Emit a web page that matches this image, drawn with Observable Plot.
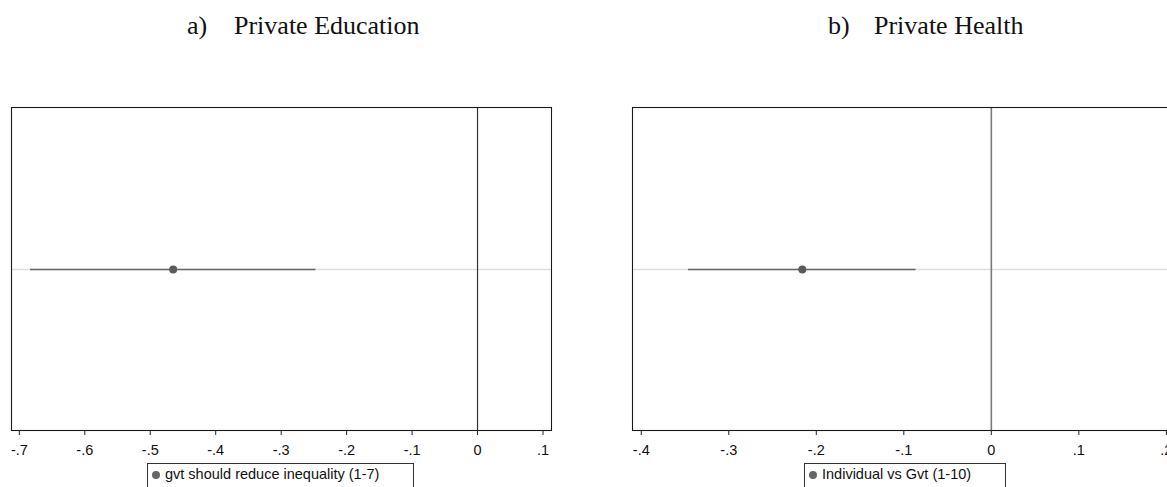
<!DOCTYPE html>
<html>
<head>
<meta charset="utf-8">
<script src="https://cdn.jsdelivr.net/npm/d3@7"></script>
<script src="https://cdn.jsdelivr.net/npm/@observablehq/plot@0.6"></script>
<style>
  html, body { margin: 0; padding: 0; background: #fff; }
  #wrap { position: relative; width: 1167px; height: 487px; overflow: hidden; background: #fff; }
  .ttl { position: absolute; font-family: "Liberation Serif", "Times New Roman", serif; font-size: 26px; line-height: 26px; color: #111; white-space: nowrap; }
  .plot { position: absolute; }
  .leg { position: absolute; border: 1px solid #333; height: 40px; box-sizing: border-box; background: #fff; }
  .leg .dot { position: absolute; width: 8px; height: 8px; border-radius: 50%; background: #666; }
  .leg .txt { position: absolute; font-family: "Liberation Sans", Arial, sans-serif; font-size: 14.5px; line-height: 15px; color: #111; white-space: nowrap; }
</style>
</head>
<body>
<div id="wrap"></div>
<script>
// ---- data ----
const panelTags = ["a)", "b)"];
const panelTitles = ["Private Education", "Private Health"];
const legendLabels = ["gvt should reduce inequality (1-7)", "Individual vs Gvt (1-10)"];
const estimates = [-0.465, -0.216];
const ciLow = [-0.683, -0.346];
const ciHigh = [-0.247, -0.086];
const xMin = [-0.712, -0.41];
const xMax = [0.113, 0.207];
const ticksA = [-0.7, -0.6, -0.5, -0.4, -0.3, -0.2, -0.1, 0, 0.1];
const tickLabelsA = ["-.7", "-.6", "-.5", "-.4", "-.3", "-.2", "-.1", "0", ".1"];
const ticksB = [-0.4, -0.3, -0.2, -0.1, 0, 0.1, 0.2];
const tickLabelsB = ["-.4", "-.3", "-.2", "-.1", "0", ".1", ".2"];
const allTicks = [ticksA, ticksB];
const allTickLabels = [tickLabelsA, tickLabelsB];

// ---- layout (pixels) ----
const layout = [
  { svgLeft: 0, width: 561, tagLeft: 187, titleLeft: 234, legLeft: 147, legWidth: 267, zero: "#333", zeroW: 1.2 },
  { svgLeft: 621, width: 561, tagLeft: 828, titleLeft: 874, legLeft: 804, legWidth: 202, zero: "#7a7a7a", zeroW: 1.6 }
];

const wrap = document.getElementById("wrap");

for (let i = 0; i < 2; i++) {
  const L = layout[i];
  const tag = document.createElement("div");
  tag.className = "ttl"; tag.textContent = panelTags[i];
  tag.style.left = L.tagLeft + "px"; tag.style.top = "13px";
  wrap.appendChild(tag);
  const ttl = document.createElement("div");
  ttl.className = "ttl"; ttl.textContent = panelTitles[i];
  ttl.style.left = L.titleLeft + "px"; ttl.style.top = "13px";
  wrap.appendChild(ttl);

  const row = [{ cat: legendLabels[i], est: estimates[i], lo: ciLow[i], hi: ciHigh[i] }];
  const ticks = allTicks[i], labels = allTickLabels[i];

  const chart = Plot.plot({
    width: L.width,
    height: 360,
    marginLeft: 11,
    marginRight: 10,
    marginTop: 7,
    marginBottom: 30,
    style: { fontFamily: "Liberation Sans, Arial, sans-serif", fontSize: "14.5px", color: "#111", background: "transparent", overflow: "visible" },
    x: { domain: [xMin[i], xMax[i]] },
    y: { type: "point", domain: [legendLabels[i]], axis: null },
    marks: [
      Plot.ruleY(row, { y: "cat", stroke: "#dedede", strokeWidth: 1.3 }),
      Plot.ruleX([0], { stroke: L.zero, strokeWidth: L.zeroW }),
      Plot.ruleY(row, { y: "cat", x1: "lo", x2: "hi", stroke: "#666", strokeWidth: 1.6 }),
      Plot.dot(row, { x: "est", y: "cat", r: 4, fill: "#5a5a5a", stroke: "none" }),
      Plot.frame({ stroke: "#1a1a1a", strokeWidth: 1.1 }),
      Plot.axisX({ ticks: ticks, tickFormat: d => labels[ticks.indexOf(d)], tickSize: 5, tickPadding: 9, stroke: "#222", fill: "#111" })
    ]
  });
  chart.classList.add("plot");
  chart.style.left = L.svgLeft + "px";
  chart.style.top = "100px";
  wrap.appendChild(chart);

  const leg = document.createElement("div");
  leg.className = "leg";
  leg.style.left = L.legLeft + "px"; leg.style.top = "463px"; leg.style.width = L.legWidth + "px";
  const dot = document.createElement("div");
  dot.className = "dot"; dot.style.left = "4px"; dot.style.top = "7px";
  leg.appendChild(dot);
  const txt = document.createElement("div");
  txt.className = "txt"; txt.textContent = legendLabels[i];
  txt.style.left = "17px"; txt.style.top = "3px";
  leg.appendChild(txt);
  wrap.appendChild(leg);
}
</script>
</body>
</html>
